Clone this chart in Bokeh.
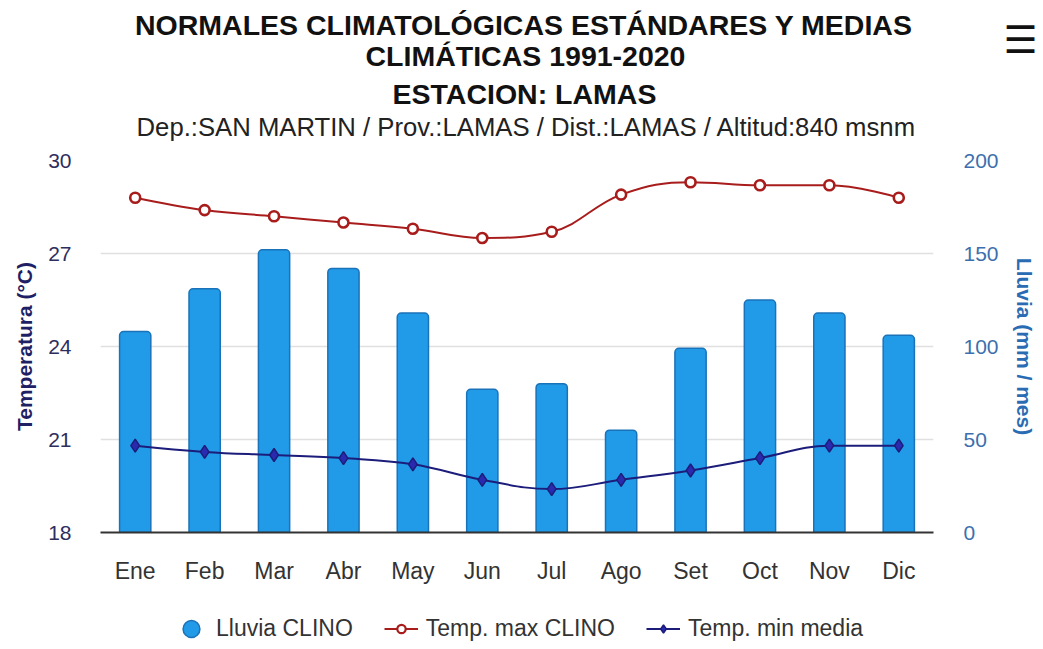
from bokeh.plotting import figure
from bokeh.layouts import column
from bokeh.models import Range1d, LinearAxis, FixedTicker, Legend, LegendItem, ColumnDataSource, Label
from bokeh.embed import file_html
from bokeh.resources import INLINE

months = ["Ene", "Feb", "Mar", "Abr", "May", "Jun", "Jul", "Ago", "Set", "Oct", "Nov", "Dic"]
lluvia = [108, 131, 152, 142, 118, 77, 80, 55, 99, 125, 118, 106]
tmax = [28.8, 28.4, 28.2, 28.0, 27.8, 27.5, 27.7, 28.9, 29.3, 29.2, 29.2, 28.8]
tmin = [20.8, 20.6, 20.5, 20.4, 20.2, 19.7, 19.4, 19.7, 20.0, 20.4, 20.8, 20.8]
temp_ticks = [18, 21, 24, 27, 30]
rain_ticks = [0, 50, 100, 150, 200]

FONT = "Liberation Sans"
BAR_FILL = "#219be8"
BAR_LINE = "#1a72b8"
RED = "#a81c1c"
NAVY = "#1c1c7a"
W = 1043
HEAD_H, MAIN_H, LEG_H = 145, 464, 40


def spline_segments(xs, ys, smoothing=1.5):
    """Bezier control points in the manner of a Highcharts spline."""
    n = len(xs)
    denom = smoothing + 1
    left = [None] * n
    right = [None] * n
    for i in range(1, n - 1):
        px, py = xs[i], ys[i]
        lx, ly = xs[i - 1], ys[i - 1]
        nx, ny = xs[i + 1], ys[i + 1]
        lcx = (smoothing * px + lx) / denom
        lcy = (smoothing * py + ly) / denom
        rcx = (smoothing * px + nx) / denom
        rcy = (smoothing * py + ny) / denom
        corr = 0.0
        if rcx != lcx:
            corr = (rcy - lcy) * (rcx - px) / (rcx - lcx) + py - rcy
        lcy += corr
        rcy += corr
        if lcy > ly and lcy > py:
            lcy = max(ly, py)
            rcy = 2 * py - lcy
        elif lcy < ly and lcy < py:
            lcy = min(ly, py)
            rcy = 2 * py - lcy
        if rcy > ny and rcy > py:
            rcy = max(ny, py)
            lcy = 2 * py - rcy
        elif rcy < ny and rcy < py:
            rcy = min(ny, py)
            lcy = 2 * py - rcy
        left[i] = (lcx, lcy)
        right[i] = (rcx, rcy)
    seg = dict(x0=[], y0=[], x1=[], y1=[], cx0=[], cy0=[], cx1=[], cy1=[])
    for i in range(1, n):
        c0 = right[i - 1] if right[i - 1] else (xs[i - 1], ys[i - 1])
        c1 = left[i] if left[i] else (xs[i], ys[i])
        seg["x0"].append(xs[i - 1]); seg["y0"].append(ys[i - 1])
        seg["x1"].append(xs[i]); seg["y1"].append(ys[i])
        seg["cx0"].append(c0[0]); seg["cy0"].append(c0[1])
        seg["cx1"].append(c1[0]); seg["cy1"].append(c1[1])
    return ColumnDataSource(seg)


def strip_figure(height, **kw):
    f = figure(width=W, height=height, output_backend="svg", toolbar_location=None,
               x_axis_location=None, y_axis_location=None, **kw)
    f.outline_line_color = None
    f.grid.visible = False
    try:
        f.frame_align = False
        f.min_border = 0
        x0 = 0
    except Exception:
        f.min_border_left = 100
        f.min_border_right = 110
        f.min_border_top = 0
        f.min_border_bottom = 0
        x0 = 100
    return f, x0


# ---------- header (titles) ----------
head, HX0 = strip_figure(HEAD_H, x_range=Range1d(0, 1), y_range=Range1d(0, 1))


def hlab(text, x, y_page, size, bold=False, color="#111111", font=FONT):
    head.add_layout(Label(x=x - HX0, y=HEAD_H - y_page, x_units="screen", y_units="screen", text=text,
                          text_align="center", text_baseline="middle", text_font=font,
                          text_font_size=size, text_font_style="bold" if bold else "normal",
                          text_color=color))


hlab("NORMALES CLIMATOLÓGICAS ESTÁNDARES Y MEDIAS", 523.5, 24, "28.5px", bold=True)
hlab("CLIMÁTICAS 1991-2020", 525, 55, "28.5px", bold=True)
hlab("ESTACION: LAMAS", 524, 93, "28.5px", bold=True)
hlab("Dep.:SAN MARTIN / Prov.:LAMAS / Dist.:LAMAS / Altitud:840 msnm", 526, 126, "25.7px", color="#222222")
hlab("☰", 1020, 39, "38px", bold=True, color="#111111", font="DejaVu Sans")

# ---------- main chart ----------
p = figure(width=W, height=MAIN_H, x_range=months, y_range=Range1d(18, 30),
           output_backend="svg", toolbar_location=None,
           min_border_left=100, min_border_right=110, min_border_top=15, min_border_bottom=77)
p.extra_y_ranges = {"rain": Range1d(0, 200)}
p.outline_line_color = None
p.xgrid.grid_line_color = None
p.ygrid.grid_line_color = "#e0e0e0"
p.ygrid.grid_line_width = 1.3
p.ygrid.ticker = FixedTicker(ticks=temp_ticks)

la = p.yaxis[0]
la.ticker = FixedTicker(ticks=temp_ticks)
la.axis_line_color = None
la.major_tick_line_color = None
la.minor_tick_line_color = None
la.major_label_standoff = 23
la.major_label_text_font = FONT
la.major_label_text_font_size = "21px"
la.major_label_text_color = "#2e2e5e"
la.axis_label = "Temperatura (°C)"
la.axis_label_standoff = 9
la.axis_label_text_font = FONT
la.axis_label_text_font_size = "21px"
la.axis_label_text_font_style = "bold"
la.axis_label_text_color = "#1f1f66"

ra = LinearAxis(y_range_name="rain", ticker=FixedTicker(ticks=rain_ticks))
ra.axis_line_color = None
ra.major_tick_line_color = None
ra.minor_tick_line_color = None
ra.major_label_standoff = 24
ra.major_label_text_font = FONT
ra.major_label_text_font_size = "21px"
ra.major_label_text_color = "#3d6fae"
ra.axis_label = "Lluvia (mm / mes)"
ra.axis_label_standoff = 11
ra.axis_label_text_font = FONT
ra.axis_label_text_font_size = "21px"
ra.axis_label_text_font_style = "bold"
ra.axis_label_text_color = "#2a6cb3"
p.add_layout(ra, "right")

xa = p.xaxis[0]
xa.axis_line_color = "#333333"
xa.axis_line_width = 2
xa.major_tick_line_color = None
xa.minor_tick_line_color = None
xa.major_label_standoff = 19
xa.major_label_text_font = FONT
xa.major_label_text_font_size = "23px"
xa.major_label_text_color = "#333333"

bars = p.vbar(x=months, top=lluvia, bottom=0, width=0.45, y_range_name="rain",
              fill_color=BAR_FILL, line_color=BAR_LINE, line_width=1.5)
try:
    bars.glyph.border_radius = (4, 4, 0, 0)
except Exception:
    pass

xs = [i + 0.5 for i in range(len(months))]
p.bezier(x0="x0", y0="y0", x1="x1", y1="y1", cx0="cx0", cy0="cy0", cx1="cx1", cy1="cy1",
         source=spline_segments(xs, tmax), line_color=RED, line_width=2)
p.scatter(x=months, y=tmax, marker="circle", size=10, fill_color="white",
          line_color=RED, line_width=2.6)
p.bezier(x0="x0", y0="y0", x1="x1", y1="y1", cx0="cx0", cy0="cy0", cx1="cx1", cy1="cy1",
         source=spline_segments(xs, tmin), line_color=NAVY, line_width=2)
p.scatter(x=months, y=tmin, marker="diamond", size=13, fill_color="#2a2ab0",
          line_color=NAVY, line_width=1.5)

# ---------- legend strip (its glyphs lie outside its own y range) ----------
leg, LX0 = strip_figure(LEG_H, x_range=months, y_range=Range1d(-2, -1))
g_rain = leg.ellipse(x=months, y=lluvia, width=16, height=16, width_units="screen",
                     height_units="screen", fill_color=BAR_FILL, line_color=BAR_LINE, line_width=1.5)
g_max_l = leg.line(x=months, y=tmax, line_color=RED, line_width=2)
g_max_m = leg.scatter(x=months, y=tmax, marker="circle", size=10, fill_color="white",
                      line_color=RED, line_width=2.2)
g_min_l = leg.line(x=months, y=tmin, line_color=NAVY, line_width=2)
g_min_m = leg.scatter(x=months, y=tmin, marker="diamond", size=13, fill_color="#2a2ab0",
                      line_color=NAVY, line_width=1.5)
legend = Legend(items=[LegendItem(label="Lluvia CLINO", renderers=[g_rain]),
                       LegendItem(label="Temp. max CLINO", renderers=[g_max_l, g_max_m]),
                       LegendItem(label="Temp. min media", renderers=[g_min_l, g_min_m])],
                orientation="horizontal", location=(174 - LX0, 7),
                border_line_color=None, background_fill_alpha=0,
                label_text_font=FONT, label_text_font_size="23px", label_text_color="#333333",
                glyph_width=34, glyph_height=21, spacing=31, label_standoff=8, padding=0, margin=0)
leg.add_layout(legend)

layout = column(head, p, leg, spacing=0)
open("out.html", "w").write(file_html(layout, INLINE))
